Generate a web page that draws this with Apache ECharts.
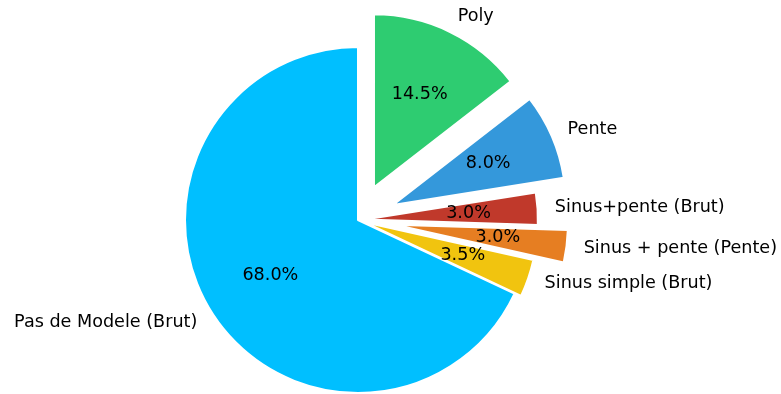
<!DOCTYPE html>
<html>
<head>
<meta charset="utf-8">
<script src="https://cdn.jsdelivr.net/npm/echarts@6/dist/echarts.min.js"></script>
<style>
  html, body { margin: 0; padding: 0; background: #ffffff; }
  #chart { width: 781px; height: 394px; }
</style>
</head>
<body>
<div id="chart"></div>
<script>
// Share of each fitted model, in percent
const categories = ['Pas de Modele (Brut)', 'Sinus simple (Brut)', 'Sinus + pente (Pente)', 'Sinus+pente (Brut)', 'Pente', 'Poly'];
const shares = [68.0, 3.5, 3.0, 3.0, 8.0, 14.5];

// Styling
const sliceColors = ['#00BFFF', '#F1C40F', '#E67E22', '#C0392B', '#3498DB', '#2ECC71'];
const sliceExplode = [0, 0.04, 0.215, 0.04, 0.22, 0.21]; // pulled out by a fraction of the radius
const RADIUS = 173;
const CENTER = [358, 220];
const FONT = { fontFamily: 'DejaVu Sans', fontSize: 17.6, color: '#000000' };
// ECharts nudges inside labels 3px outward; the inner radius compensates so percentages sit at 0.6 r
const PCT_INNER = RADIUS * 0.2 - 6;

const hidden = { itemStyle: { color: 'rgba(0,0,0,0)', borderWidth: 0 }, label: { show: false } };

const series = [];
categories.forEach((name, i) => {
  const offset = sliceExplode[i] * RADIUS;
  // wedge + outer name label (placed at 1.1 r)
  series.push({
    type: 'pie',
    center: CENTER,
    radius: [0, RADIUS],
    startAngle: 90,
    clockwise: false,
    avoidLabelOverlap: false,
    selectedMode: 'single',
    selectedOffset: offset,
    emphasis: { disabled: true },
    silent: true,
    labelLine: { show: false, length: RADIUS * 0.1, length2: 0 },
    data: categories.map((n, j) => j === i ? {
      name: n, value: shares[j], selected: true,
      itemStyle: { color: sliceColors[j], borderColor: '#ffffff', borderWidth: 2 },
      label: Object.assign({ show: true, position: 'outside', formatter: '{b}', distanceToLabelLine: 0 }, FONT)
    } : Object.assign({ name: n, value: shares[j] }, hidden))
  });
  // percentage label
  series.push({
    type: 'pie',
    center: CENTER,
    radius: [PCT_INNER, RADIUS],
    startAngle: 90,
    clockwise: false,
    avoidLabelOverlap: false,
    selectedMode: 'single',
    selectedOffset: offset,
    emphasis: { disabled: true },
    silent: true,
    labelLine: { show: false },
    z: 5,
    data: categories.map((n, j) => j === i ? {
      name: n, value: shares[j], selected: true,
      itemStyle: { color: 'rgba(0,0,0,0)', borderWidth: 0 },
      label: Object.assign({ show: true, position: 'inside', formatter: p => p.percent.toFixed(1) + '%' }, FONT)
    } : Object.assign({ name: n, value: shares[j] }, hidden))
  });
});

const chart = echarts.init(document.getElementById('chart'), null, { renderer: 'canvas' });
chart.setOption({
  animation: false,
  backgroundColor: '#ffffff',
  series: series
});
</script>
</body>
</html>
